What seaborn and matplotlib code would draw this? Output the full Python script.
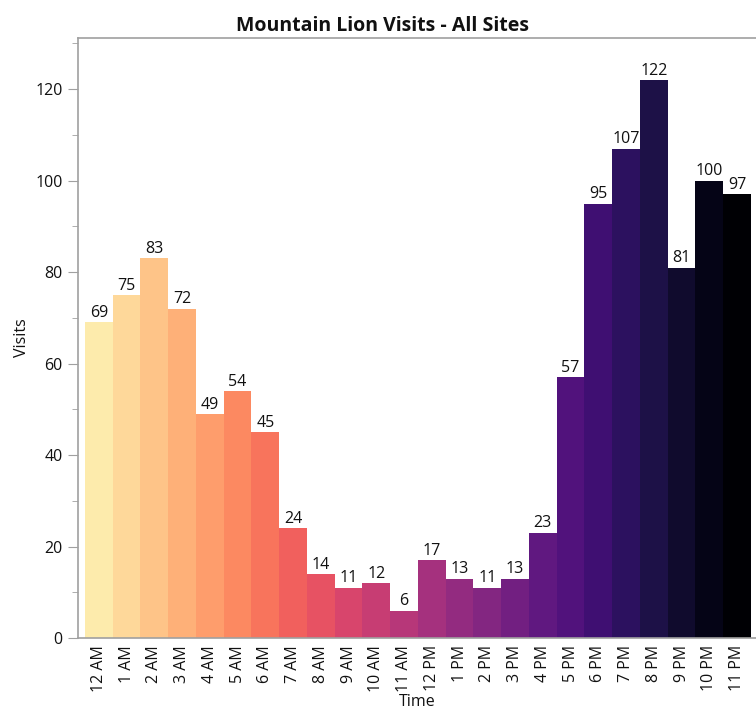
import matplotlib
matplotlib.use("Agg")
import matplotlib.pyplot as plt
import seaborn as sns
import pandas as pd
import numpy as np
from matplotlib.ticker import MultipleLocator

hours = ["12 AM", "1 AM", "2 AM", "3 AM", "4 AM", "5 AM", "6 AM", "7 AM",
         "8 AM", "9 AM", "10 AM", "11 AM", "12 PM", "1 PM", "2 PM", "3 PM",
         "4 PM", "5 PM", "6 PM", "7 PM", "8 PM", "9 PM", "10 PM", "11 PM"]
visits = [69, 75, 83, 72, 49, 54, 45, 24, 14, 11, 12, 6,
          17, 13, 11, 13, 23, 57, 95, 107, 122, 81, 100, 97]

df = pd.DataFrame({"Time": hours, "Visits": visits})

sns.set_style("white")
plt.rcParams["font.family"] = ["Open Sans", "DejaVu Sans"]
plt.rcParams["text.color"] = "#111111"
plt.rcParams["axes.labelcolor"] = "#111111"
plt.rcParams["xtick.color"] = "#111111"
plt.rcParams["ytick.color"] = "#111111"

fig = plt.figure(figsize=(7.56, 7.09), dpi=100)
ax = fig.add_axes([78/756, 1 - 638/709, 1 - 78/756, (638 - 38)/709])

cmap = matplotlib.colormaps["magma"]
palette = [cmap(v) for v in np.linspace(0.96, 0.0, len(hours))]
sns.barplot(data=df, x="Time", y="Visits", hue="Time", palette=palette,
            legend=False, width=1.0, saturation=1, linewidth=0, ax=ax)

for c in ax.containers:
    ax.bar_label(c, fontsize=11.5, padding=1, color="#111111")

ax.set_xlim(-0.75, 23.68)
ax.set_ylim(0, 131.2)
ax.yaxis.set_major_locator(MultipleLocator(20))
ax.yaxis.set_minor_locator(MultipleLocator(10))
ax.tick_params(axis="y", which="major", length=7, color="#a0a0a0", labelcolor="#111111",
               labelsize=11.5, pad=4, left=True)
ax.tick_params(axis="y", which="minor", length=4, color="#a0a0a0", left=True)
ax.tick_params(axis="x", length=0, labelsize=11.5, labelcolor="#111111", rotation=90, pad=5)

for s in ["left", "bottom", "top"]:
    ax.spines[s].set_color("#a0a0a0")
    ax.spines[s].set_linewidth(1.2)
ax.spines["right"].set_visible(False)

ax.set_xlabel("Time", fontsize=11.5, labelpad=1.5)
ax.set_ylabel("Visits", fontsize=11.5, labelpad=4)
ax.set_title("Mountain Lion Visits - All Sites", fontsize=14, fontweight="bold",
             pad=5, x=(382 - 78) / (756 - 78))

fig.savefig("out.png", dpi=100)
